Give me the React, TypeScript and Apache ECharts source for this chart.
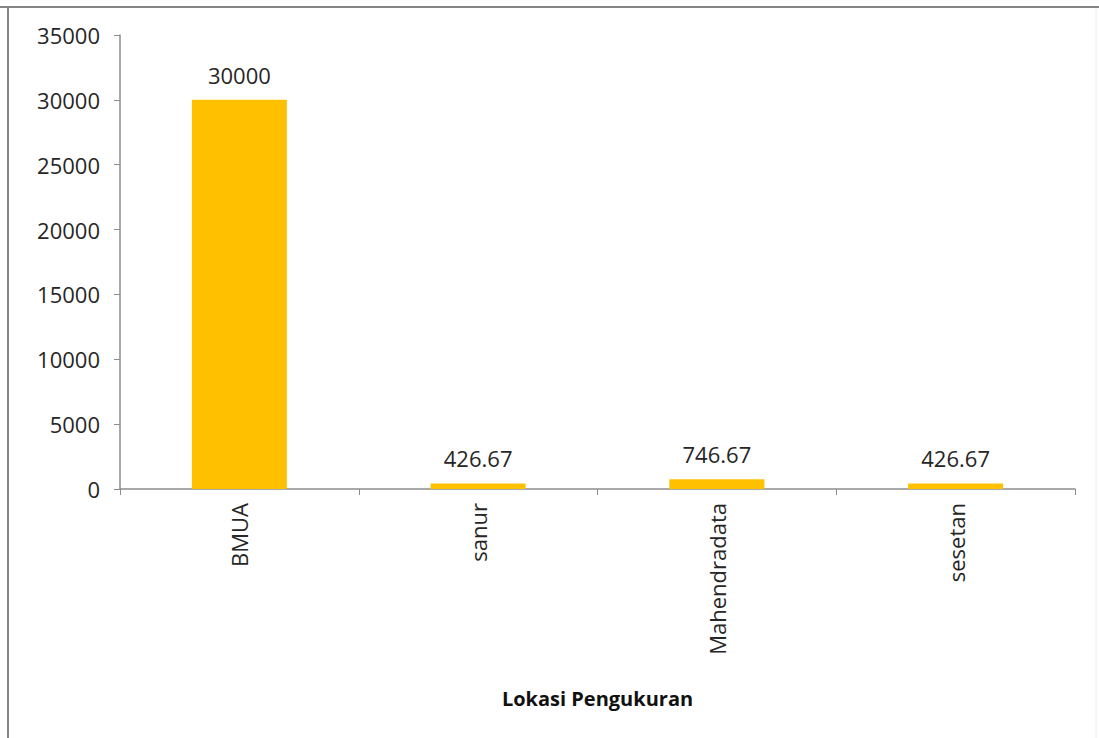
import React, { useEffect, useRef } from "react";
import * as echarts from "echarts";

const categories = ["BMUA", "sanur", "Mahendradata", "sesetan"];
const values = [30000, 426.67, 746.67, 426.67];
const yTicks = { min: 0, max: 35000, interval: 5000 };
const xTitle = "Lokasi Pengukuran";

const FONT = "'Open Sans', 'Noto Sans', sans-serif";

export default function App() {
  const ref = useRef<HTMLDivElement>(null);

  useEffect(() => {
    if (!ref.current) return;
    const chart = echarts.init(ref.current, undefined, { renderer: "svg" });
    chart.setOption({
      animation: false,
      backgroundColor: "#ffffff",
      textStyle: { fontFamily: FONT },
      grid: { left: 120, top: 35, right: 24, bottom: 249, containLabel: false },
      xAxis: {
        type: "category",
        data: categories,
        name: xTitle,
        nameLocation: "middle",
        nameGap: 199,
        nameTextStyle: { fontFamily: FONT, fontSize: 20, fontWeight: "bold", color: "#111" },
        axisLine: { lineStyle: { color: "#8c8c8c", width: 1.5 } },
        axisTick: { show: true, length: 6, alignWithLabel: false, lineStyle: { color: "#8c8c8c" } },
        axisLabel: {
          rotate: 90,
          margin: 14,
          fontFamily: FONT,
          fontSize: 22,
          color: "#262626",
        },
      },
      yAxis: {
        type: "value",
        min: yTicks.min,
        max: yTicks.max,
        interval: yTicks.interval,
        splitLine: { show: false },
        axisLine: { show: true, lineStyle: { color: "#8c8c8c", width: 1.5 } },
        axisTick: { show: true, length: 6, lineStyle: { color: "#8c8c8c" } },
        axisLabel: {
          fontFamily: FONT,
          fontSize: 22,
          color: "#262626",
          margin: 20,
          formatter: (v: number) => String(v),
        },
      },
      series: [
        {
          type: "bar",
          data: values,
          barWidth: 95,
          itemStyle: { color: "#FFC000" },
          label: {
            show: true,
            position: "top",
            distance: 14,
            fontFamily: FONT,
            fontSize: 22,
            color: "#262626",
            formatter: (p: any) => String(p.value),
          },
        },
      ],
      graphic: [
        { type: "line", shape: { x1: 0, y1: 7, x2: 1099, y2: 7 }, style: { stroke: "#858585", lineWidth: 2 } },
        { type: "line", shape: { x1: 8, y1: 6, x2: 8, y2: 738 }, style: { stroke: "#858585", lineWidth: 2 } },
        { type: "line", shape: { x1: 1096, y1: 8, x2: 1096, y2: 738 }, style: { stroke: "#eeeeee", lineWidth: 1 } },
      ],
    });
    return () => chart.dispose();
  }, []);

  return (
    <div
      ref={ref}
      style={{ position: "absolute", left: 0, top: 0, width: 1099, height: 738 }}
    />
  );
}
